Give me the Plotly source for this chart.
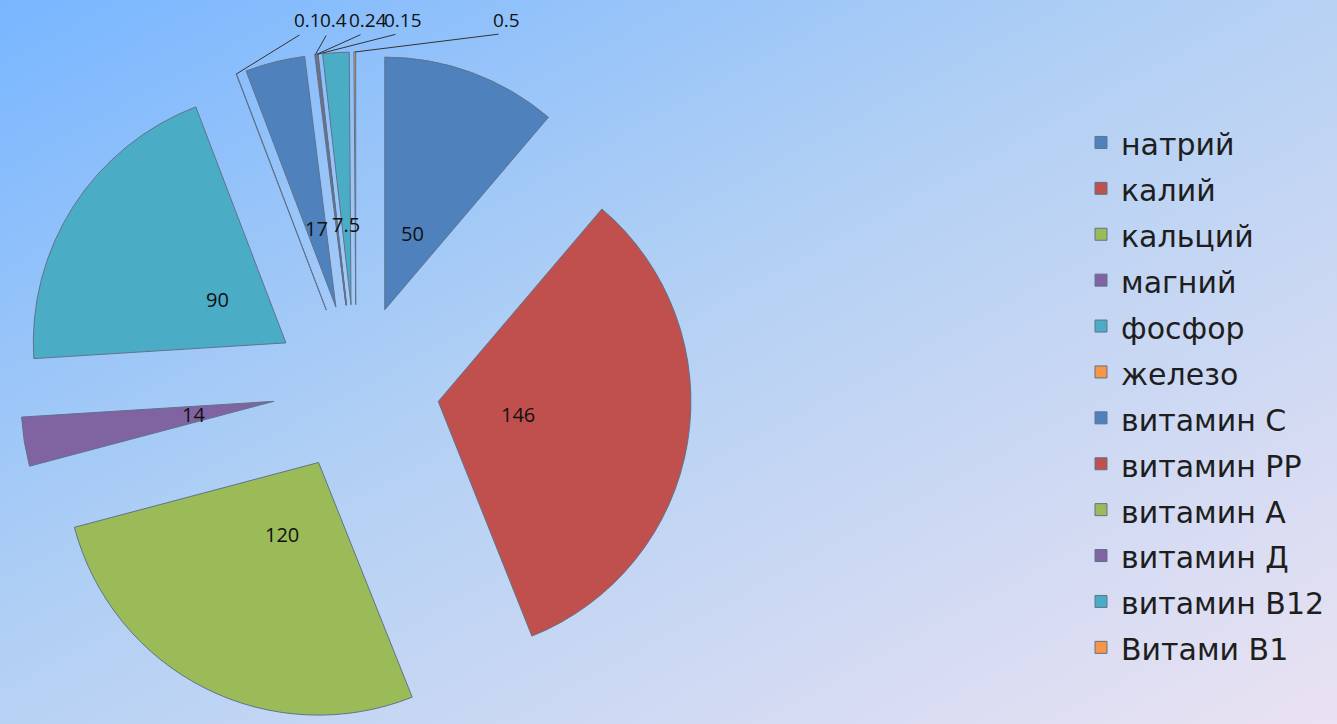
import base64
import math
import plotly.graph_objects as go

labels = ["натрий", "калий", "кальций", "магний", "фосфор", "железо",
          "витамин С", "витамин РР", "витамин А", "витамин Д", "витамин В12", "Витами В1"]
values = [50, 146, 120, 14, 90, 0.1, 17, 0.4, 0.24, 0.15, 7.5, 0.5]
# slices whose value label is written above the chart instead of on the slice
tiny = [False, False, False, False, False, True, False, True, True, True, False, True]
tiny_label_x = {5: 307, 7: 333, 8: 368, 9: 403, 11: 506}

palette = ["#4F81BD", "#C0504D", "#9BBB59", "#8064A2", "#4BACC6", "#F79646"]
colors = [palette[i % 6] for i in range(len(labels))]

W, H = 1337, 724
TOP = 52
PULL = 0.33
DOM_W = 712
LABEL_POS = 0.32  # label distance from the slice tip, as a fraction of the radius

svg = f'''<svg xmlns="http://www.w3.org/2000/svg" width="{W}" height="{H}" preserveAspectRatio="none">
<defs><linearGradient id="g" x1="0" y1="0" x2="1" y2="1">
<stop offset="0" stop-color="#78B6FF"/>
<stop offset="0.45" stop-color="#B2D0F4"/>
<stop offset="1" stop-color="#EAE2F2"/>
</linearGradient></defs>
<rect width="{W}" height="{H}" fill="url(#g)"/></svg>'''
src = "data:image/svg+xml;base64," + base64.b64encode(svg.encode()).decode()

legend_labels = [f'<span style="font-size:30px">{l}</span>' for l in labels]

fig = go.Figure(go.Pie(
    labels=legend_labels, values=values, sort=False, direction="clockwise", rotation=0,
    pull=PULL,
    marker=dict(colors=colors, line=dict(color="#60728C", width=1)),
    textinfo="none",
    domain=dict(x=[0, DOM_W / W], y=[0, 1]),
    hovertext=labels, hoverinfo="text+value",
))

# value labels, placed along each slice's bisector
plot_h = H - TOP
radius = (plot_h / 2) / (1 + PULL)
cx, cy = DOM_W / 2, TOP + plot_h / 2
total = sum(values)
label_font = dict(family="Open Sans", size=20, color="#111111")
tiny_font = dict(family="Open Sans", size=19, color="#111111")


def to_paper(px, py):
    return px / W, 1 - (py - TOP) / plot_h


cum = 0
annotations = []
for i, v in enumerate(values):
    mid = (cum + v / 2) / total * 2 * math.pi
    cum += v
    sx, sy = math.sin(mid), -math.cos(mid)
    if not tiny[i]:
        rr = radius * (PULL + LABEL_POS)
        x, y = to_paper(cx + rr * sx, cy + rr * sy)
        annotations.append(dict(x=x, y=y, xref="paper", yref="paper", text=str(v),
                                showarrow=False, xanchor="center", yanchor="middle",
                                font=label_font))
        continue
    rr = radius * (1 + PULL)
    px, py = cx + rr * sx, cy + rr * sy
    lx, ly = tiny_label_x[i], 20
    x, y = to_paper(px, py)
    annotations.append(dict(
        x=x, y=y, xref="paper", yref="paper",
        ax=lx - px - 6, ay=(ly + 14) - py, axref="pixel", ayref="pixel",
        text="", showarrow=True, arrowhead=0, arrowwidth=1, arrowcolor="#333"))
    x, y = to_paper(lx, ly)
    annotations.append(dict(
        x=x, y=y, xref="paper", yref="paper", xanchor="center", yanchor="middle",
        text=str(v), showarrow=False, font=tiny_font))

fig.update_layout(
    width=W, height=H,
    margin=dict(l=0, r=0, t=TOP, b=0, autoexpand=False),
    paper_bgcolor="#A9CCF5", plot_bgcolor="rgba(0,0,0,0)",
    annotations=annotations,
    images=[dict(source=src, xref="paper", yref="paper", x=0, y=1 + TOP / plot_h,
                 sizex=1, sizey=H / plot_h, sizing="stretch", layer="below",
                 xanchor="left", yanchor="top")],
    legend=dict(x=1081 / W, y=1 - 395 / H, xref="container", yref="container",
                xanchor="left", yanchor="middle", maxheight=700,
                font=dict(family="DejaVu Sans", size=33, color="#1E1E1E"),
                bgcolor="rgba(0,0,0,0)", itemclick=False, itemdoubleclick=False),
    showlegend=True,
)
fig.write_html("out.html", config={"displayModeBar": False},
               post_script="document.body.style.margin='0';")
